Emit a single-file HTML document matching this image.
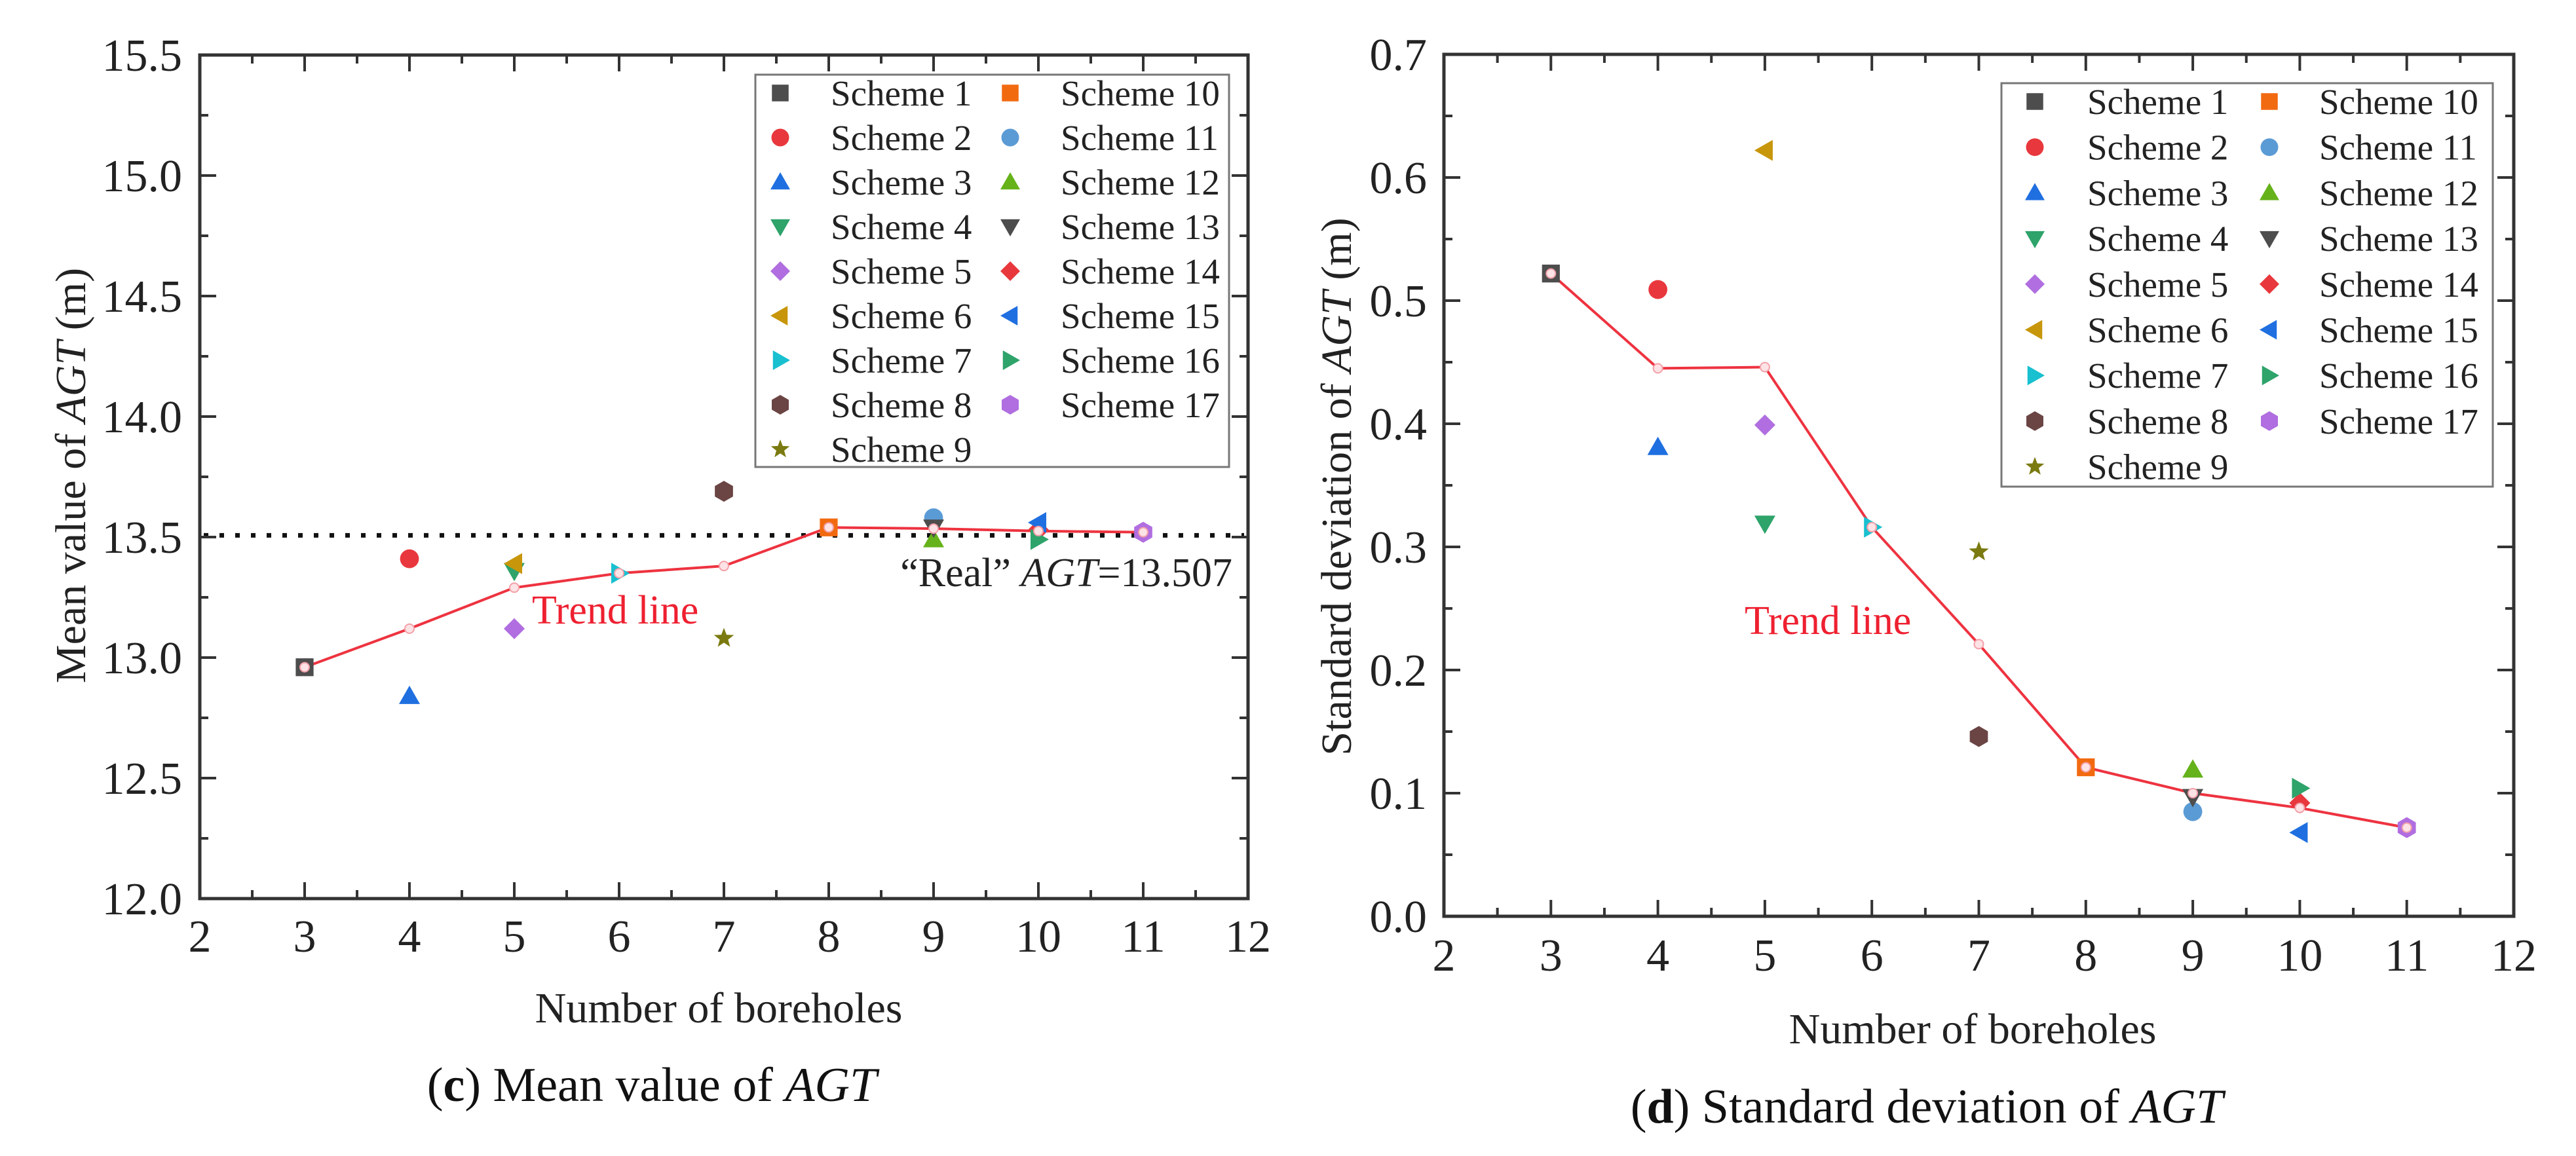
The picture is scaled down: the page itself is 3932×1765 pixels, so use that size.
<!DOCTYPE html>
<html><head><meta charset="utf-8">
<style>
html,body{margin:0;padding:0;background:#fff;}
svg{display:block;font-family:"Liberation Serif",serif;}
</style></head>
<body>
<svg id="fig" width="3932" height="1765" viewBox="0 0 3932 1765" xmlns="http://www.w3.org/2000/svg">
<rect x="0" y="0" width="3932" height="1765" fill="#fff"/>
<g id="chartC"></g>
<g id="chartD"></g>
<text x="995" y="1681" font-size="74" text-anchor="middle" fill="#111">(<tspan font-weight="bold">c</tspan>) Mean value of  <tspan font-style="italic">AGT</tspan></text>
<text x="2941" y="1714" font-size="74" text-anchor="middle" fill="#111">(<tspan font-weight="bold">d</tspan>) Standard deviation of  <tspan font-style="italic">AGT</tspan></text>
</svg>
<script>
const xTicks = [2,3,4,5,6,7,8,9,10,11,12];
const trendX = [3,4,5,6,7,8,9,10,11];
const meanTrend = [12.96,13.12,13.29,13.35,13.38,13.54,13.535,13.525,13.52];
const stdTrend = [0.522,0.445,0.446,0.316,0.221,0.121,0.100,0.088,0.072];
const schemeNames = ["Scheme 1","Scheme 2","Scheme 3","Scheme 4","Scheme 5","Scheme 6","Scheme 7","Scheme 8","Scheme 9","Scheme 10","Scheme 11","Scheme 12","Scheme 13","Scheme 14","Scheme 15","Scheme 16","Scheme 17"];
const schemeX = [3,4,4,5,5,5,6,7,7,8,9,9,9,10,10,10,11];
const meanValues = [12.96,13.41,12.84,13.36,13.12,13.39,13.35,13.69,13.08,13.54,13.58,13.49,13.54,13.53,13.56,13.49,13.52];
const stdValues = [0.522,0.509,0.381,0.319,0.399,0.622,0.316,0.146,0.296,0.121,0.085,0.119,0.097,0.092,0.068,0.104,0.072];
const meanYTicks = ["12.0","12.5","13.0","13.5","14.0","14.5","15.0","15.5"];
const stdYTicks = ["0.0","0.1","0.2","0.3","0.4","0.5","0.6","0.7"];
const realAGT = 13.507;

const shapes = ["square","circle","up","down","diamond","left","right","hex","star","square","circle","up","down","diamond","left","right","hex"];
const colors = ["#4d4d4d","#e8383d","#1f6fe0","#2ea36a","#b06ee0","#c8960a","#18c0d0","#6b4444","#7a7a10","#f26a10","#5b9bd5","#66b21a","#4d4d4d","#e8383d","#1f6fe0","#2ea36a","#b06ee0"];
const NS = "http://www.w3.org/2000/svg";

function mk(tag, parent, attrs){
  const e = document.createElementNS(NS, tag);
  for (const k in attrs) e.setAttribute(k, attrs[k]);
  parent.appendChild(e);
  return e;
}
function markerPath(shape, cx, cy, s){
  const r = s/2;
  if (shape==="square") return `M${cx-r*0.85},${cy-r*0.85}h${1.7*r}v${1.7*r}h${-1.7*r}z`;
  if (shape==="up") return `M${cx},${cy-r}L${cx+r},${cy+r*0.75}L${cx-r},${cy+r*0.75}z`;
  if (shape==="down") return `M${cx},${cy+r}L${cx+r},${cy-r*0.75}L${cx-r},${cy-r*0.75}z`;
  if (shape==="left") return `M${cx-r},${cy}L${cx+r*0.75},${cy-r}L${cx+r*0.75},${cy+r}z`;
  if (shape==="right") return `M${cx+r},${cy}L${cx-r*0.75},${cy-r}L${cx-r*0.75},${cy+r}z`;
  if (shape==="diamond") return `M${cx},${cy-r}L${cx+r},${cy}L${cx},${cy+r}L${cx-r},${cy}z`;
  if (shape==="hex"){let d="";for(let i=0;i<6;i++){const a=Math.PI/3*i+Math.PI/6;d+=(i?"L":"M")+(cx+r*Math.cos(a))+","+(cy+r*Math.sin(a));}return d+"z";}
  if (shape==="star"){let d="";for(let i=0;i<10;i++){const a=-Math.PI/2+Math.PI/5*i;const rr=i%2?r*0.42:r;d+=(i?"L":"M")+(cx+rr*Math.cos(a))+","+(cy+rr*Math.sin(a));}return d+"z";}
  return "";
}
function drawMarker(g, shape, color, cx, cy, s){
  if (shape==="circle") return mk("circle", g, {cx:cx, cy:cy, r:s*0.45, fill:color});
  return mk("path", g, {d:markerPath(shape,cx,cy,s), fill:color});
}

function drawChart(g, cfg){
  const X = v => cfg.left + (v - 2)/10*(cfg.right - cfg.left);
  const Y = v => cfg.bottom - (v - cfg.ymin)/(cfg.ymax - cfg.ymin)*(cfg.bottom - cfg.top);
  const ax = "#333";
  // legend box
  const lg = mk("g", g, {});
  
  
  mk("rect", lg, {x:cfg.lg.x, y:cfg.lg.y, width:cfg.lg.w, height:cfg.lg.h, fill:"#fff", stroke:"#777", "stroke-width":3});
  schemeNames.forEach((n,i)=>{
    const col = i<9?0:1, row = i<9?i:i-9;
    const cy = cfg.lg.row0 + row*cfg.lg.dy;
    const e = mk("g", lg, {});
    
    
    drawMarker(e, shapes[i], colors[i], cfg.lg.mx[col], cy, 30);
    const t = mk("text", e, {x:cfg.lg.tx[col], y:cy+19, "font-size":55, fill:"#222"});
    t.textContent = n;
  });
  // dotted reference
  if (cfg.ref !== undefined){
    const l = mk("line", g, {x1:cfg.left+6, x2:cfg.right-6, y1:Y(cfg.ref), y2:Y(cfg.ref), stroke:"#111", "stroke-width":7, "stroke-dasharray":"7 17"});
    
    
  }
  // trend line
  const pts = trendX.map((x,i)=>X(x)+","+Y(cfg.trend[i])).join(" ");
  const tl = mk("polyline", g, {points:pts, fill:"none", stroke:"#ee3340", "stroke-width":4});
  
  
  // scheme points
  schemeX.forEach((x,i)=>{
    const m = drawMarker(g, shapes[i], colors[i], X(x), Y(cfg.values[i]), 32);
    
    
  });
  // trend markers
  trendX.forEach((x,i)=>{
    const c = mk("circle", g, {cx:X(x), cy:Y(cfg.trend[i]), r:7, fill:"#fde3e6", stroke:"#f3a0a8", "stroke-width":2});
    
    
  });
  // axes frame
  const fr = mk("rect", g, {x:cfg.left, y:cfg.top, width:cfg.right-cfg.left, height:cfg.bottom-cfg.top, fill:"none", stroke:ax, "stroke-width":5});
  
  
  // x ticks
  xTicks.forEach((v,i)=>{
    const x = X(v);
    mk("line", g, {x1:x, x2:x, y1:cfg.bottom, y2:cfg.bottom-25, stroke:ax, "stroke-width":4});
    mk("line", g, {x1:x, x2:x, y1:cfg.top, y2:cfg.top+25, stroke:ax, "stroke-width":4});
    if (i<xTicks.length-1){
      const xm = X(v+0.5);
      mk("line", g, {x1:xm, x2:xm, y1:cfg.bottom, y2:cfg.bottom-13, stroke:ax, "stroke-width":4});
      mk("line", g, {x1:xm, x2:xm, y1:cfg.top, y2:cfg.top+13, stroke:ax, "stroke-width":4});
    }
    const t = mk("text", g, {x:x, y:cfg.xLabelY, "font-size":70, "text-anchor":"middle", fill:"#222"});
    
    
    t.textContent = v;
  });
  // y ticks
  cfg.yTicks.forEach((lab,i)=>{
    const v = parseFloat(lab);
    const y = Y(v);
    mk("line", g, {x1:cfg.left, x2:cfg.left+25, y1:y, y2:y, stroke:ax, "stroke-width":4});
    mk("line", g, {x1:cfg.right, x2:cfg.right-25, y1:y, y2:y, stroke:ax, "stroke-width":4});
    if (i<cfg.yTicks.length-1){
      const ym = Y(v+cfg.ystep/2);
      mk("line", g, {x1:cfg.left, x2:cfg.left+13, y1:ym, y2:ym, stroke:ax, "stroke-width":4});
      mk("line", g, {x1:cfg.right, x2:cfg.right-13, y1:ym, y2:ym, stroke:ax, "stroke-width":4});
    }
    const t = mk("text", g, {x:cfg.yLabelX, y:y+24, "font-size":70, "text-anchor":"end", fill:"#222"});
    
    
    t.textContent = lab;
  });
  // titles
  const xt = mk("text", g, {x:cfg.xTitle[0], y:cfg.xTitle[1], "font-size":66, "text-anchor":"middle", fill:"#222"});
  
  
  xt.textContent = "Number of boreholes";
  const yt = mk("text", g, {x:0, y:0, "font-size":66, "text-anchor":"middle", fill:"#222", transform:`translate(${cfg.yTitle[0]},${cfg.yTitle[1]}) rotate(-90)`});
  
  
  yt.innerHTML = cfg.yTitleText + ' of <tspan font-style="italic">AGT</tspan> (m)';
  const tr = mk("text", g, {x:cfg.trendLab[0], y:cfg.trendLab[1], "font-size":62, fill:"#ee2030"});
  
  
  tr.textContent = "Trend line";
}

drawChart(document.getElementById("chartC"), {
  left:305, right:1905, top:84, bottom:1372, ymin:12, ymax:15.5, ystep:0.5,
  yTicks:meanYTicks, trend:meanTrend, values:meanValues, ref:realAGT,
  xLabelY:1453, yLabelX:278, xTitle:[1097,1561], yTitle:[130,726], yTitleText:"Mean value",
  trendLab:[812,952],
  lg:{x:1153, y:114, w:723, h:599, row0:142, dy:68, mx:[1191,1542], tx:[1268,1619]}
});
const realLab = document.createElementNS(NS, "text");


realLab.setAttribute("x", 1881); realLab.setAttribute("y", 895);
realLab.setAttribute("font-size", 62); realLab.setAttribute("text-anchor", "end"); realLab.setAttribute("fill", "#222");
realLab.innerHTML = '\u201CReal\u201D <tspan font-style="italic">AGT</tspan>=13.507';
document.getElementById("chartC").appendChild(realLab);

drawChart(document.getElementById("chartD"), {
  left:2204, right:3837, top:83, bottom:1399, ymin:0, ymax:0.7, ystep:0.1,
  yTicks:stdYTicks, trend:stdTrend, values:stdValues,
  xLabelY:1482, yLabelX:2178, xTitle:[3011,1593], yTitle:[2062,743], yTitleText:"Standard deviation",
  trendLab:[2663,968],
  lg:{x:3055, y:127, w:750, h:616, row0:155, dy:69.7, mx:[3106,3464], tx:[3186,3540]}
});
</script>
</body></html>
